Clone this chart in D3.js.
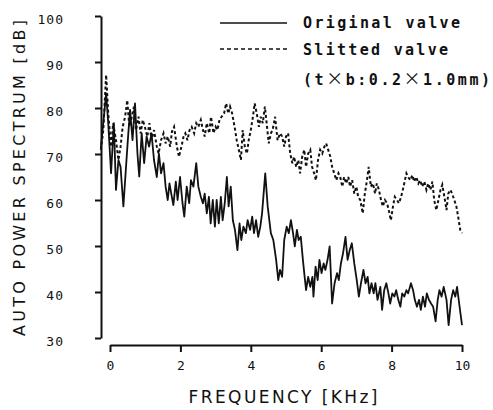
<!DOCTYPE html>
<html>
<head>
<meta charset="utf-8">
<script src="https://cdn.jsdelivr.net/npm/d3@7"></script>
<style>
  body { margin: 0; background: #fff; }
  .tick text { font-family: "DejaVu Sans Mono", monospace; font-size: 13px; fill: #111; }
  .axis path, .axis line { stroke: #111; stroke-width: 2; }
</style>
</head>
<body>
<div id="chart"></div>
<script>
// frequency in kHz, level in dB
var freqOriginal = [-0.26,-0.11,-0.05,0.03,0.11,0.17,0.24,0.30,0.38,0.50,0.57,0.64,0.71,0.78,0.83,0.90,0.97,1.04,1.11,1.18,
  1.25,1.33,1.39,1.45,1.52,1.58,1.64,1.69,1.74,1.80,1.87,1.92,1.99,2.06,2.11,2.18,2.25,2.30,2.37,2.45,
  2.51,2.58,2.64,2.69,2.75,2.81,2.86,2.92,2.98,3.03,3.09,3.15,3.20,3.26,3.32,3.37,3.43,3.49,3.55,3.62,
  3.68,3.73,3.79,3.86,3.91,3.98,4.04,4.09,4.15,4.21,4.27,4.32,4.41,4.48,4.57,4.64,4.72,4.78,4.83,4.89,
  4.95,5.02,5.08,5.14,5.20,5.25,5.31,5.36,5.42,5.48,5.53,5.57,5.63,5.69,5.75,5.78,5.84,5.90,5.95,6.01,
  6.07,6.12,6.18,6.24,6.31,6.38,6.45,6.50,6.56,6.62,6.69,6.75,6.81,6.87,6.94,7.01,7.07,7.13,7.20,7.26,
  7.32,7.37,7.43,7.49,7.54,7.60,7.68,7.73,7.79,7.85,7.91,7.96,8.02,8.08,8.13,8.19,8.25,8.30,8.36,8.42,
  8.47,8.55,8.61,8.66,8.72,8.78,8.83,8.89,8.95,9.00,9.06,9.12,9.18,9.25,9.31,9.36,9.42,9.48,9.56,9.62,
  9.69,9.75,9.81,9.86,9.92,10.0];
var levelOriginal = [71.2,83.2,76.7,65.8,76.7,62.2,68.7,67.2,58.6,72.3,79.6,73.0,81.0,70.1,65.1,74.5,68.0,73.8,71.6,74.5,
  68.7,65.0,70.1,65.8,68.0,62.9,60.0,63.6,61.4,58.9,64.0,60.0,65.0,59.3,56.4,62.9,59.3,64.3,62.9,68.0,
  62.9,60.7,59.3,61.4,57.1,60.7,54.9,60.0,54.2,60.0,54.9,60.7,55.6,59.3,65.0,58.6,62.9,55.6,53.5,49.1,
  54.9,51.3,54.2,52.8,55.6,53.5,56.4,52.8,55.6,52.0,54.2,57.1,65.8,58.6,52.8,51.3,47.0,42.6,44.8,43.3,
  51.3,54.2,52.8,55.6,52.8,49.9,53.5,51.3,52.0,47.0,43.3,40.4,43.3,41.1,43.3,39.0,45.5,42.6,47.0,44.1,
  46.2,44.8,47.0,49.9,37.5,41.9,44.1,42.6,46.2,48.4,52.0,47.0,49.1,50.6,46.2,42.6,39.0,41.9,44.8,41.9,
  43.3,39.7,41.9,39.7,41.9,38.3,41.1,36.1,40.4,41.9,39.7,37.5,39.7,39.0,40.4,38.3,36.8,39.7,39.0,40.4,
  39.7,41.9,40.4,38.3,36.8,38.3,36.1,39.0,36.8,39.7,38.3,37.5,36.8,33.6,38.3,40.4,39.0,41.1,38.3,32.8,
  38.3,40.4,39.0,41.1,37.5,32.8];

var freqSlitted = [-0.26,-0.19,-0.11,-0.05,0.03,0.09,0.17,0.24,0.30,0.36,0.43,0.49,0.55,0.62,0.68,0.74,0.81,0.87,0.93,0.99,
  1.06,1.12,1.18,1.25,1.33,1.38,1.45,1.52,1.58,1.64,1.71,1.76,1.82,1.90,1.96,2.03,2.09,2.14,2.20,2.26,
  2.32,2.39,2.45,2.51,2.58,2.64,2.69,2.75,2.82,2.87,2.94,3.00,3.05,3.11,3.17,3.24,3.30,3.36,3.41,3.47,
  3.54,3.60,3.66,3.72,3.77,3.83,3.89,3.94,4.00,4.06,4.11,4.17,4.23,4.28,4.34,4.40,4.45,4.51,4.57,4.62,
  4.69,4.76,4.83,4.89,4.95,5.00,5.06,5.12,5.18,5.23,5.29,5.35,5.40,5.46,5.52,5.57,5.63,5.69,5.74,5.80,
  5.85,5.91,5.97,6.03,6.09,6.14,6.20,6.26,6.31,6.37,6.43,6.49,6.54,6.60,6.65,6.71,6.77,6.82,6.88,6.94,
  7.00,7.05,7.11,7.18,7.24,7.30,7.35,7.41,7.47,7.53,7.58,7.64,7.70,7.75,7.81,7.87,7.92,7.98,8.04,8.09,
  8.15,8.21,8.27,8.34,8.42,8.47,8.53,8.59,8.64,8.70,8.76,8.81,8.87,8.93,8.99,9.04,9.10,9.16,9.21,9.27,
  9.33,9.39,9.44,9.50,9.56,9.61,9.67,9.72,9.78,9.84,9.89,9.95,10.0];
var levelSlitted = [70.9,75.2,87.2,78.8,71.6,76.7,73.0,68.7,71.6,75.9,78.1,81.7,75.9,78.1,80.3,75.2,78.1,74.5,77.4,75.9,
  73.8,76.7,73.0,75.2,71.6,70.1,73.0,74.5,72.3,73.8,71.6,74.9,75.9,71.6,69.4,71.6,73.8,74.5,73.0,75.2,
  75.9,74.5,76.7,75.9,77.4,75.2,73.8,76.7,74.5,78.1,74.5,75.9,75.2,77.4,78.1,78.8,81.0,78.8,80.3,78.8,
  75.9,73.0,70.9,68.7,75.2,71.6,70.1,73.0,75.2,78.1,81.0,78.8,75.9,78.1,76.7,80.3,76.7,72.3,74.5,75.2,
  78.1,73.0,74.5,73.8,71.6,73.8,74.5,70.1,68.0,69.4,67.2,68.7,65.8,69.4,70.9,67.2,70.1,70.9,67.2,65.8,
  64.3,68.7,70.9,70.1,71.6,72.3,70.9,69.4,67.2,65.8,64.3,65.8,65.0,62.9,65.0,63.6,65.0,62.9,64.3,61.4,
  62.9,60.7,60.0,57.1,61.4,64.3,67.2,62.9,63.6,61.4,63.6,62.2,60.0,58.6,60.0,59.3,57.8,55.6,58.6,60.7,
  60.0,59.3,60.7,62.9,65.8,65.0,64.3,65.4,64.0,65.0,63.6,64.3,62.9,64.0,62.2,63.6,62.2,64.0,60.0,57.8,
  60.0,62.2,63.3,60.7,57.8,61.4,62.2,61.4,60.0,58.6,56.4,53.5,52.8];

var yTicks = [30, 40, 50, 60, 70, 80, 90, 100];
var xTicks = [0, 2, 4, 6, 8, 10];

var legendLabels = ["Original valve", "Slitted valve", "(t\u00d7b:0.2\u00d71.0mm)"];

var svgWidth = 493;
var svgHeight = 410;

var svg = d3.select("#chart")
  .append("svg")
  .attr("width", svgWidth)
  .attr("height", svgHeight);

var xScale = d3.scaleLinear().domain([0, 10]).range([110, 462]);
var yScale = d3.scaleLinear().domain([30, 100]).range([338, 16]);

// y axis sits a bit left of the 0 kHz tick, like the original plot
var yAxis = svg.append("g")
  .attr("class", "axis")
  .attr("transform", "translate(101,0)")
  .call(d3.axisLeft(yScale).tickValues(yTicks).tickSize(6).tickSizeOuter(0).tickPadding(31));

yAxis.selectAll("text")
  .attr("dy", "0.6em")
  .attr("letter-spacing", "1px");

var xAxis = svg.append("g")
  .attr("class", "axis")
  .attr("transform", "translate(0,345)")
  .call(d3.axisBottom(xScale).tickValues(xTicks).tickSize(7).tickSizeOuter(0));

xAxis.selectAll("text")
  .attr("y", 21)
  .attr("dy", "0.32em");

// axis titles
svg.append("text")
  .attr("transform", "translate(25,178) rotate(-90)")
  .attr("text-anchor", "middle")
  .attr("font-family", "DejaVu Sans")
  .attr("font-size", 16)
  .attr("textLength", 316)
  .attr("lengthAdjust", "spacing")
  .attr("fill", "#111")
  .text("AUTO POWER SPECTRUM [dB]");

svg.append("text")
  .attr("x", 283)
  .attr("y", 403)
  .attr("text-anchor", "middle")
  .attr("font-family", "DejaVu Sans")
  .attr("font-size", 17)
  .attr("textLength", 189)
  .attr("lengthAdjust", "spacing")
  .attr("fill", "#111")
  .text("FREQUENCY [KHz]");

// data lines
var lineGen = d3.line()
  .x(d => xScale(d[0]))
  .y(d => yScale(d[1]));

var slitted = freqSlitted.map((f, i) => [f, levelSlitted[i]]);
var original = freqOriginal.map((f, i) => [f, levelOriginal[i]]);

svg.append("path")
  .datum(slitted)
  .attr("fill", "none")
  .attr("stroke", "#111")
  .attr("stroke-width", 2)
  .attr("stroke-dasharray", "3,2.5")
  .attr("d", lineGen);

svg.append("path")
  .datum(original)
  .attr("fill", "none")
  .attr("stroke", "#111")
  .attr("stroke-width", 1.8)
  .attr("stroke-linejoin", "round")
  .attr("d", lineGen);

// legend
var legend = svg.append("g");

legend.append("line")
  .attr("x1", 220).attr("x2", 287)
  .attr("y1", 23).attr("y2", 23)
  .attr("stroke", "#111")
  .attr("stroke-width", 1.6);

legend.append("line")
  .attr("x1", 220).attr("x2", 287)
  .attr("y1", 49).attr("y2", 49)
  .attr("stroke", "#111")
  .attr("stroke-width", 1.6)
  .attr("stroke-dasharray", "4,3");

var legendY = [28, 55, 85];
var legendLen = [157, 145, 187];

var legendText = legend.selectAll(".legend-text")
  .data(legendLabels)
  .enter()
  .append("text")
  .attr("class", "legend-text")
  .attr("x", 303)
  .attr("y", (d, i) => legendY[i])
  .attr("font-family", "DejaVu Sans Mono")
  .attr("font-weight", "bold")
  .attr("font-size", 15)
  .attr("textLength", (d, i) => legendLen[i])
  .attr("lengthAdjust", "spacing")
  .attr("fill", "#111");

// the multiplication sign is a wide typewriter glyph in the original
legendText.each(function(d) {
  var el = d3.select(this);
  d.split(/(\u00d7)/).forEach(function(part) {
    var ts = el.append("tspan").text(part);
    if (part === "\u00d7") {
      ts.attr("font-family", "Noto Sans CJK JP").attr("font-weight", "normal").attr("font-size", 17);
    }
  });
});
</script>
</body>
</html>
